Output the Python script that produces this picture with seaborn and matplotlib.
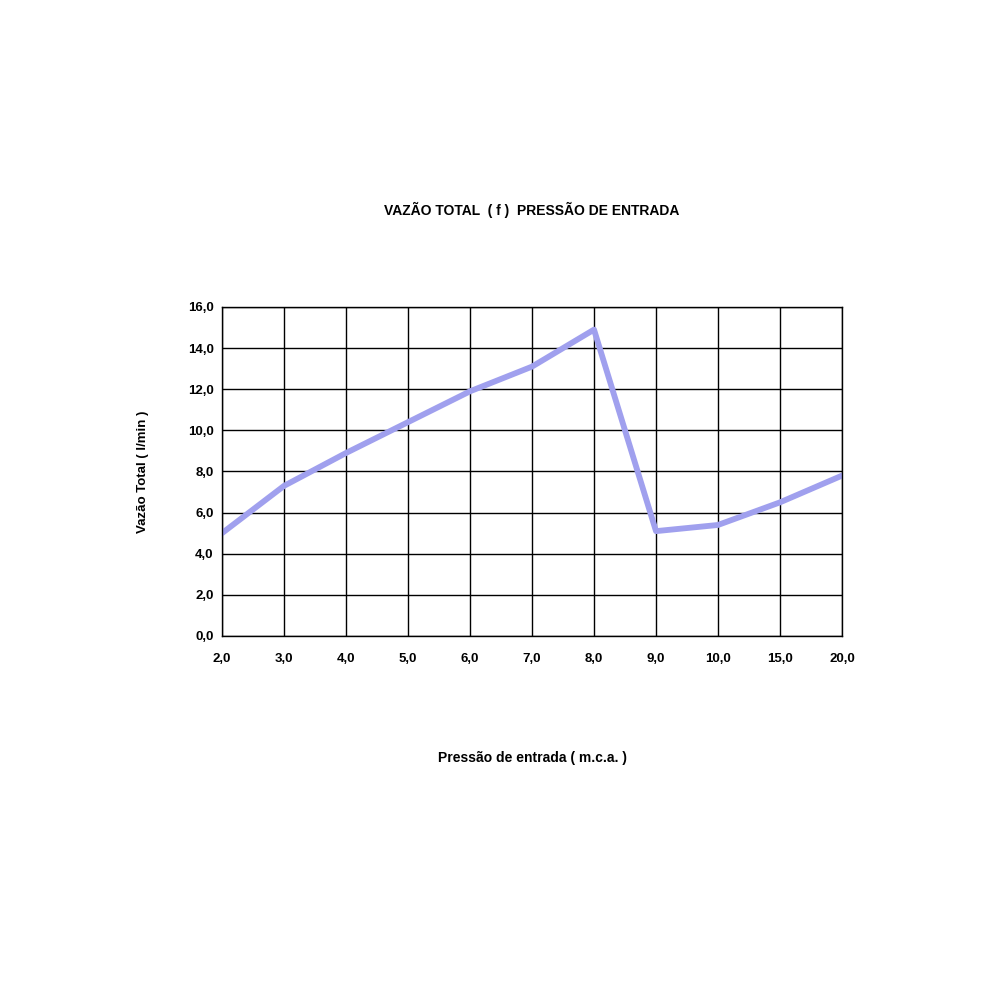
import matplotlib
matplotlib.use("Agg")
import matplotlib.pyplot as plt
import seaborn as sns
import numpy as np

sns.set_style("white")
plt.rcParams['font.family'] = ['Liberation Sans', 'DejaVu Sans']
plt.rcParams['text.color'] = "black"
plt.rcParams['axes.labelcolor'] = "black"
plt.rcParams['xtick.color'] = "black"
plt.rcParams['ytick.color'] = "black"

# Data
pressure_labels = ["2,0", "3,0", "4,0", "5,0", "6,0", "7,0", "8,0", "9,0", "10,0", "15,0", "20,0"]
flow = [5.0, 7.3, 8.9, 10.4, 11.9, 13.1, 14.9, 5.1, 5.4, 6.5, 7.8]
y_ticks = [0, 2, 4, 6, 8, 10, 12, 14, 16]

fig = plt.figure(figsize=(10, 10), dpi=100)
ax = fig.add_axes([0.222, 0.364, 0.62, 0.329])

x = np.arange(len(flow))
sns.lineplot(x=x, y=flow, ax=ax, color="#a0a0ee", linewidth=4.2)

ax.set_xlim(0, len(flow) - 1)
ax.set_ylim(0, 16)
ax.set_xticks(x)
ax.set_xticklabels(pressure_labels, fontsize=9.5, fontweight="bold")
ax.set_yticks(y_ticks)
ax.set_yticklabels([f"{v:.1f}".replace(".", ",") for v in y_ticks], fontsize=9.5, fontweight="bold")
ax.grid(True, color="black", linewidth=1)
for s in ax.spines.values():
    s.set_color("black")
    s.set_linewidth(1)
ax.tick_params(axis="x", length=0, pad=12)
ax.tick_params(axis="y", length=0, pad=6)

ax.set_title("VAZÃO TOTAL  ( f )  PRESSÃO DE ENTRADA", fontsize=10, fontweight="bold", pad=66)
ax.set_xlabel("Pressão de entrada ( m.c.a. )", fontsize=10, fontweight="bold", labelpad=62)
ax.set_ylabel("Vazão Total ( l/min )", fontsize=9.5, fontweight="bold", labelpad=28)

fig.savefig("out.png", dpi=100, facecolor="white")
